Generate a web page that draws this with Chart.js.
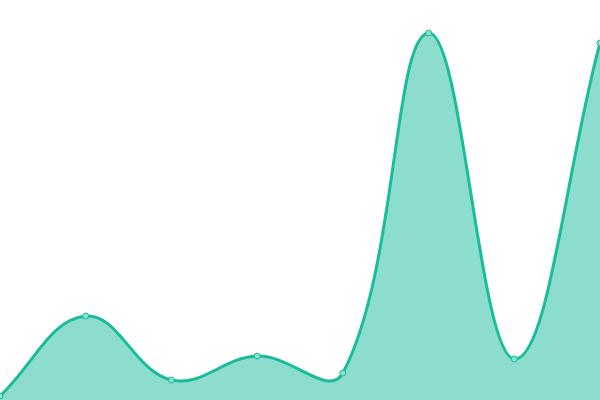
<!DOCTYPE html>
<html>
<head>
<meta charset="utf-8">
<script src="https://cdn.jsdelivr.net/npm/chart.js@4"></script>
<style>
	html, body { margin: 0; padding: 0; background: #fff; }
	#wrap { width: 600px; height: 400px; }
</style>
</head>
<body>
<div id="wrap"><canvas id="myChart"></canvas></div>
<script>
const labels = ["1", "2", "3", "4", "5", "6", "7", "8"];
const values = [1, 21, 5, 11, 6.75, 91.75, 10.25, 89.25];

const ctx = document.getElementById("myChart").getContext("2d");

new Chart(ctx, {
	type: "line",
	data: {
		labels: labels,
		datasets: [
			{
				data: values,
				fill: "origin",
				tension: 0.4,
				borderColor: "#1abc9c",
				backgroundColor: "rgba(26, 188, 156, 0.5)",
				borderWidth: 3,
				pointRadius: 3,
				pointBorderWidth: 1,
				pointBackgroundColor: "#8de0cf",
				pointBorderColor: "#1abc9c",
			},
		],
	},
	options: {
		responsive: true,
		maintainAspectRatio: false,
		animation: false,
		layout: { padding: 0, autoPadding: false },
		scales: {
			x: { display: false, offset: false },
			y: { display: false, min: 0, max: 100 },
		},
		plugins: {
			legend: { display: false },
			tooltip: { enabled: false },
		},
	},
});
</script>
</body>
</html>
